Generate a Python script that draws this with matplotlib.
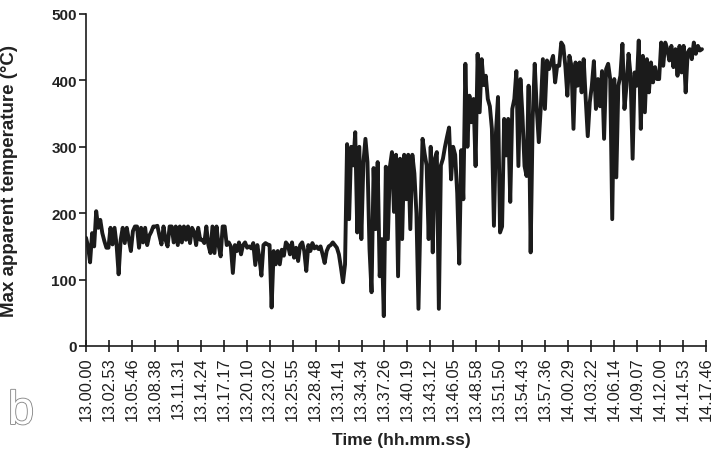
import matplotlib
matplotlib.use("Agg")
import matplotlib.pyplot as plt
import matplotlib.patheffects as pe
import numpy as np

# ---- data -------------------------------------------------------------
tick_labels = ["13.00.00", "13.02.53", "13.05.46", "13.08.38", "13.11.31", "13.14.24",
               "13.17.17", "13.20.10", "13.23.02", "13.25.55", "13.28.48", "13.31.41",
               "13.34.34", "13.37.26", "13.40.19", "13.43.12", "13.46.05", "13.48.58",
               "13.51.50", "13.54.43", "13.57.36", "14.00.29", "14.03.22", "14.06.14",
               "14.09.07", "14.12.00", "14.14.53", "14.17.46"]

# Max apparent temperature (°C), first phase (13.00 – ~13.31)
temp_phase1 = [
    163, 150, 126, 170, 150, 203, 178, 190, 170, 158,
    148, 148, 178, 153, 178, 152, 108, 160, 178, 155,
    178, 160, 143, 173, 180, 180, 148, 178, 156, 178,
    152, 166, 172, 180, 180, 181, 166, 153, 180, 160,
    150, 180, 180, 156, 180, 152, 180, 156, 180, 160,
    180, 155, 178, 172, 152, 178, 160, 160, 155, 180,
    152, 140, 180, 140, 180, 152, 135, 180, 180, 152,
    156, 150, 110, 152, 143, 156, 138, 152, 156, 148,
    150, 147, 155, 122, 152, 133, 106, 152, 155, 153,
    152, 58, 143, 123, 143, 123, 145, 136, 156, 152,
    138, 156, 133, 148, 128, 152, 156, 143, 113, 152,
    143, 155, 147, 150, 146, 150, 138, 125, 143, 150,
    152, 156, 152, 148, 138, 118, 96, 123,
]

# second phase (~13.31 – end)
temp_phase2 = [
    304, 191, 300, 272, 322, 171, 300, 161, 276, 312,
    277, 146, 81, 268, 176, 277, 105, 161, 45, 270,
    161, 270, 292, 202, 288, 105, 282, 161, 288, 221,
    288, 176, 288, 260, 200, 56, 200, 312, 290, 272,
    161, 300, 141, 282, 292, 56, 272, 282, 300, 315,
    329, 251, 300, 288, 230, 124, 295, 221, 425, 300,
    377, 337, 372, 271, 440, 352, 432, 393, 407, 372,
    361, 327, 181, 322, 375, 171, 180, 342, 287, 342,
    217, 357, 372, 414, 271, 402, 346, 271, 256, 392,
    141, 342, 425, 357, 307, 361, 432, 357, 430, 417,
    427, 437, 397, 422, 422, 457, 452, 422, 377, 437,
    422, 327, 427, 392, 427, 382, 432, 372, 316, 367,
    392, 429, 357, 402, 361, 414, 312, 417, 425, 402,
    191, 402, 254, 392, 407, 455, 357, 392, 440, 407,
    282, 412, 392, 460, 327, 437, 352, 432, 382, 427,
    397, 420, 402, 402, 457, 422, 457, 447, 430, 452,
    420, 447, 407, 452, 412, 452, 382, 442, 447, 432,
    457, 440, 452, 445, 447,
]

SAMPLE_SECONDS = 15.35
y_ticks = [0, 100, 200, 300, 400, 500]


def to_seconds(lbl):
    h, m, s = (int(p) for p in lbl.split("."))
    return (h - 13) * 3600 + m * 60 + s


temps = np.array(temp_phase1 + temp_phase2, dtype=float)
times = np.arange(len(temps)) * SAMPLE_SECONDS
tick_pos = [to_seconds(t) for t in tick_labels]

# ---- figure ------------------------------------------------------------
plt.rcParams["font.family"] = ["Liberation Sans", "DejaVu Sans"]
fig = plt.figure(figsize=(7.16, 4.56), dpi=100)
ax = fig.add_axes([86 / 716, 1 - 347 / 456, 620 / 716, 332 / 456])

ax.plot(times, temps, color="#1b1b1b", lw=2.8, solid_joinstyle="round",
        solid_capstyle="round")

ax.set_xlim(tick_pos[0], tick_pos[-1])
ax.set_ylim(0, 500)
ax.set_xticks(tick_pos)
ax.set_xticklabels(tick_labels, rotation=90, fontsize=11.8, color="#1e1e1e")
ax.set_yticks(y_ticks)
ax.set_yticklabels([str(v) for v in y_ticks], fontsize=11, fontweight="bold",
                   color="#222222")

for side in ("top", "right"):
    ax.spines[side].set_visible(False)
for side in ("left", "bottom"):
    ax.spines[side].set_linewidth(1.2)
    ax.spines[side].set_color("#1b1b1b")
    ax.spines[side].set_clip_on(False)

ax.tick_params(axis="y", direction="out", length=5, width=1.2, pad=1.5, color="#1b1b1b")
ax.tick_params(axis="x", direction="inout", length=9, width=1.2, pad=3, color="#1b1b1b")

ax.set_ylabel("Max apparent temperature (°C)", fontsize=13.5, fontweight="bold",
              color="#222222")
ax.yaxis.set_label_coords((18 - 86) / 620, 0.5)
fig.text(401 / 716, 1 - 441 / 456, "Time (hh.mm.ss)", fontsize=12.5,
         fontweight="bold", color="#222222", ha="center", va="center")

fig.text(21 / 716, 1 - 413 / 456, "b", fontsize=34, color="white",
         ha="center", va="center",
         path_effects=[pe.withStroke(linewidth=1.3, foreground="#8a8a8a")])

fig.savefig("out.png", dpi=100)
